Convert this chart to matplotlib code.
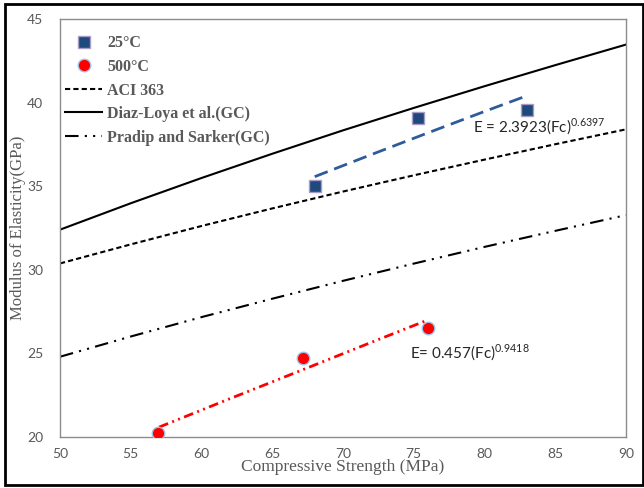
import matplotlib.pyplot as plt
from matplotlib.patches import Rectangle

plt.rcParams['mathtext.fontset'] = 'custom'
plt.rcParams['mathtext.rm'] = 'Lato'

# measured points
fc_25 = [68.0, 75.3, 83.0]
E_25 = [35.0, 39.1, 39.55]
fc_500 = [56.9, 67.2, 76.0]
E_500 = [20.25, 24.7, 26.5]

# trend lines through the test data
fit25_x = [68, 72, 76, 80, 83]
fit25_y = [35.57, 36.89, 38.19, 39.47, 40.41]
fit500_x = [57, 62, 67, 72, 76]
fit500_y = [20.59, 22.29, 23.97, 25.66, 27.0]

# code / literature predictions
fc_ref = [50, 55, 60, 65, 70, 75, 80, 85, 90]
E_aci = [30.38, 31.52, 32.62, 33.67, 34.68, 35.65, 36.59, 37.51, 38.40]
E_diaz = [32.4, 33.98, 35.49, 36.94, 38.34, 39.68, 40.98, 42.24, 43.47]
E_pradip = [24.8, 26.01, 27.17, 28.27, 29.34, 30.37, 31.37, 32.33, 33.27]

gray = '#595959'

fig = plt.figure(figsize=(6.44, 4.88), dpi=100)
ax = fig.add_axes([60 / 644, 51 / 488, 566 / 644, 418 / 488])

ax.plot(fc_ref, E_aci, color='black', lw=1.5, dashes=(2.5, 1.5), label='ACI 363')
ax.plot(fc_ref, E_diaz, color='black', lw=1.5, label='Diaz-Loya et al.(GC)')
ax.plot(fc_ref, E_pradip, color='black', lw=1.5, dashes=(6.5, 3, 1, 3, 1, 3),
        label='Pradip and Sarker(GC)')

ax.plot(fit25_x, fit25_y, color='#2E5C9A', lw=2, dashes=(5, 2.5))
ax.plot(fit500_x, fit500_y, color='#FF0000', lw=2, dashes=(3.5, 1.6, 0.7, 1.6, 0.7, 1.6))

ax.plot(fc_25, E_25, ls='none', marker='s', ms=9, mfc='#1F497D', mec='#A79CC6',
        mew=1, label='25°C', zorder=5)
ax.plot(fc_500, E_500, ls='none', marker='o', ms=9, mfc='#FF0000', mec='#9DC3E6',
        mew=1, label='500°C', zorder=5)

ax.text(79.2, 38.55, r'E = 2.3923(Fc)$^{0.6397}$', fontsize=11, color='#262626',
        family='Lato', va='center')
ax.text(74.7, 25.0, r'E= 0.457(Fc)$^{0.9418}$', fontsize=11, color='#262626',
        family='Lato', va='center')

ax.set_xlim(50, 90)
ax.set_ylim(20, 45)
ax.set_xticks(range(50, 91, 5))
ax.set_yticks(range(20, 46, 5))
ax.tick_params(length=0, labelsize=10, labelcolor=gray)
ax.tick_params(axis='x', pad=8)
ax.tick_params(axis='y', pad=12)
for lab in ax.get_xticklabels() + ax.get_yticklabels():
    lab.set_family('Lato')
for sp in ax.spines.values():
    sp.set_color('#8C8C8C')
    sp.set_linewidth(1)

ax.set_xlabel('Compressive Strength (MPa)', family='Liberation Serif', fontsize=12.5,
              color=gray, labelpad=-1)
ax.set_ylabel('Modulus of Elasticity(GPa)', family='Liberation Serif', fontsize=12,
              color=gray, labelpad=0.5)

handles, labels = ax.get_legend_handles_labels()
order = [3, 4, 0, 1, 2]
leg = ax.legend([handles[i] for i in order], [labels[i] for i in order],
                loc='upper left', bbox_to_anchor=(0.0, 0.972), frameon=False,
                handlelength=2.35, handletextpad=0.3, labelspacing=0.47,
                borderaxespad=0.15, borderpad=0.15,
                prop={'family': 'Liberation Serif', 'weight': 'bold', 'size': 11.5})
for t in leg.get_texts():
    t.set_color(gray)

# outer border
fig.patches.append(Rectangle((5 / 644, 3 / 488), 638 / 644, 481 / 488,
                             transform=fig.transFigure, fill=False,
                             edgecolor='black', lw=2))

fig.savefig('out.png', dpi=100)
